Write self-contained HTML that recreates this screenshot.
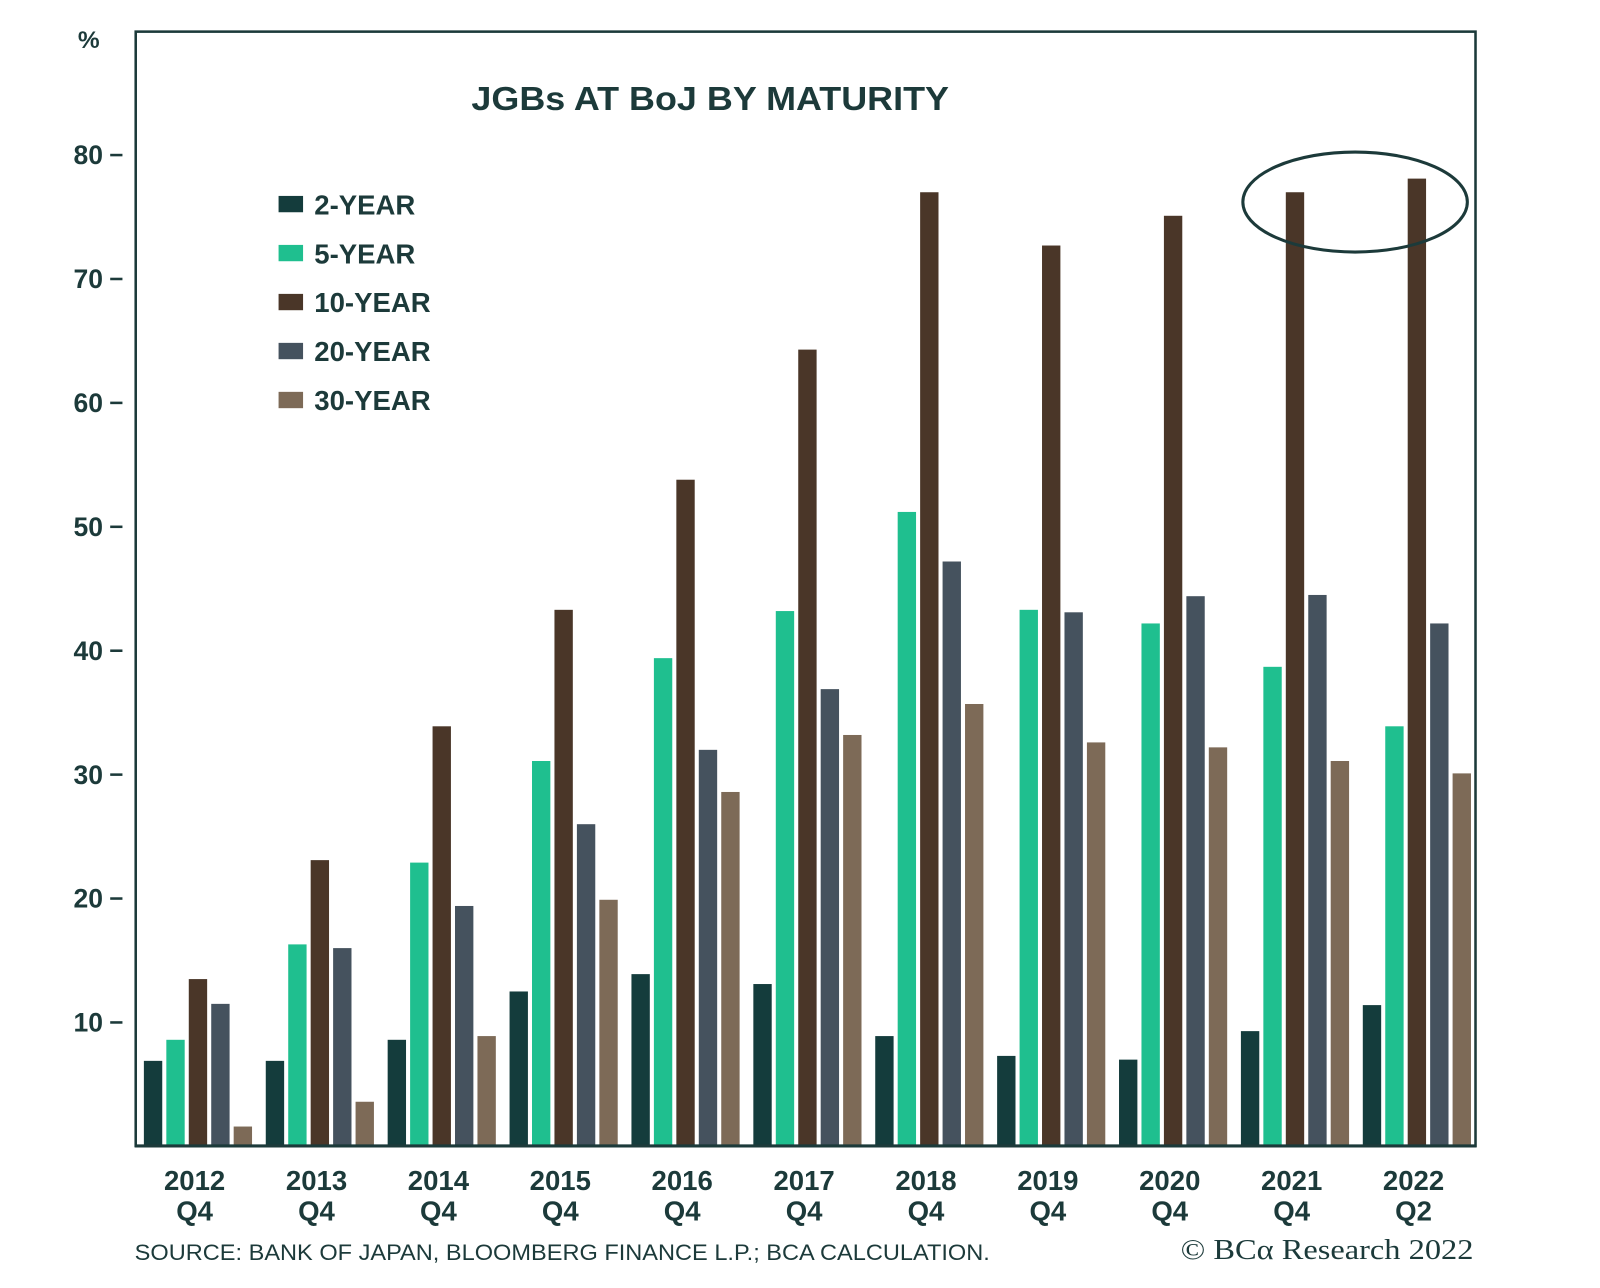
<!DOCTYPE html>
<html><head><meta charset="utf-8">
<style>
body{margin:0;background:#fff;}
svg{display:block;}
</style></head>
<body>
<svg id="chart" width="1600" height="1288" viewBox="0 0 1568 1262.2" preserveAspectRatio="none" xmlns="http://www.w3.org/2000/svg">
<rect x="0" y="0" width="1568" height="1263" fill="#fff"/>
<g id="marks"></g>
<rect x="133" y="31" width="1313" height="1092" fill="none" stroke="#1c3a3a" stroke-width="2.5"/>
<line x1="132" y1="1123" x2="1447" y2="1123" stroke="#1c3a3a" stroke-width="3"/>
<g id="yaxis"></g>
<g id="xaxis"></g>
<text x="87" y="47" text-anchor="middle" font-family="Liberation Sans, sans-serif" font-weight="bold" font-size="24" fill="#1c3a3a">%</text>
<text x="462" y="108" textLength="468" lengthAdjust="spacingAndGlyphs" font-family="Liberation Sans, sans-serif" font-weight="bold" font-size="33" fill="#1c3a3a">JGBs AT BoJ BY MATURITY</text>
<g id="legend"></g>
<ellipse cx="1328" cy="198" rx="110" ry="49" fill="none" stroke="#1c3a3a" stroke-width="3"/>
<text x="132" y="1235" textLength="838" lengthAdjust="spacingAndGlyphs" font-family="Liberation Sans, sans-serif" font-size="22" fill="#1c3a3a">SOURCE: BANK OF JAPAN, BLOOMBERG FINANCE L.P.; BCA CALCULATION.</text>
<text x="1157" y="1234" textLength="287" lengthAdjust="spacingAndGlyphs" font-family="Liberation Serif, serif" font-size="28" fill="#1c3a3a">© BCα Research 2022</text>
</svg>
<script>
const categoriesYear=["2012","2013","2014","2015","2016","2017","2018","2019","2020","2021","2022"];
const categoriesQ=["Q4","Q4","Q4","Q4","Q4","Q4","Q4","Q4","Q4","Q4","Q2"];
const seriesNames=["2-YEAR","5-YEAR","10-YEAR","20-YEAR","30-YEAR"];
const seriesColors=["#143c3c","#1fbf8f","#4a3628","#45525e","#7d6a57"];
const y2=[6.9,6.9,8.6,12.5,13.9,13.1,8.9,7.3,7.0,9.3,11.4];
const y5=[8.6,16.3,22.9,31.1,39.4,43.2,51.2,43.3,42.2,38.7,33.9];
const y10=[13.5,23.1,33.9,43.3,53.8,64.3,77.0,72.7,75.1,77.0,78.1];
const y20=[11.5,16.0,19.4,26.0,32.0,36.9,47.2,43.1,44.4,44.5,42.2];
const y30=[1.6,3.6,8.9,19.9,28.6,33.2,35.7,32.6,32.2,31.1,30.1];
const yTicks=[10,20,30,40,50,60,70,80];

const NS="http://www.w3.org/2000/svg";
const X0=132,X1=1446,Y0=1123.4,PER=12.143;
const gw=(X1-X0)/categoriesYear.length;
function yScale(v){return Y0-v*PER;}
function xGroup(i){return X0+i*gw;}
function mk(tag,attrs,parent){const e=document.createElementNS(NS,tag);for(const k in attrs)e.setAttribute(k,attrs[k]);parent.appendChild(e);return e;}
const marks=document.getElementById('marks');
const all=[y2,y5,y10,y20,y30];
const keys=["2yr","5yr","10yr","20yr","30yr"];
all.forEach((arr,s)=>{
  arr.forEach((v,i)=>{
    const x=xGroup(i)+9+s*22;
    const r=mk('rect',{x:x,y:yScale(v),width:18,height:Y0-yScale(v),fill:seriesColors[s]},marks);
    
    
  });
});
const ya=document.getElementById('yaxis');
yTicks.forEach(t=>{
  const y=yScale(t);
  const l=mk('line',{x1:108,y1:y,x2:120,y2:y,stroke:'#1c3a3a','stroke-width':2.5},ya);
  
  
  const tx=mk('text',{x:101,y:y+9,'text-anchor':'end','font-family':'Liberation Sans, sans-serif','font-weight':'bold','font-size':26,fill:'#1c3a3a'},ya);
  tx.textContent=t;
  
  
});
const xa=document.getElementById('xaxis');
categoriesYear.forEach((c,i)=>{
  const cx=xGroup(i)+gw/2-1;
  const t1=mk('text',{x:cx,y:1166,'text-anchor':'middle','font-family':'Liberation Sans, sans-serif','font-weight':'bold','font-size':27,fill:'#1c3a3a'},xa);
  t1.textContent=c;
  
  
  const t2=mk('text',{x:cx,y:1196,'text-anchor':'middle','font-family':'Liberation Sans, sans-serif','font-weight':'bold','font-size':27,fill:'#1c3a3a'},xa);
  t2.textContent=categoriesQ[i];
  
  
});
const lg=document.getElementById('legend');
seriesNames.forEach((n,s)=>{
  const y=200+s*48;
  const r=mk('rect',{x:273,y:y-8,width:24,height:16,fill:seriesColors[s]},lg);
  
  
  const t=mk('text',{x:308,y:y+10,'font-family':'Liberation Sans, sans-serif','font-weight':'bold','font-size':27,fill:'#1c3a3a'},lg);
  t.textContent=n;
  
  
});
</script>
</body></html>
